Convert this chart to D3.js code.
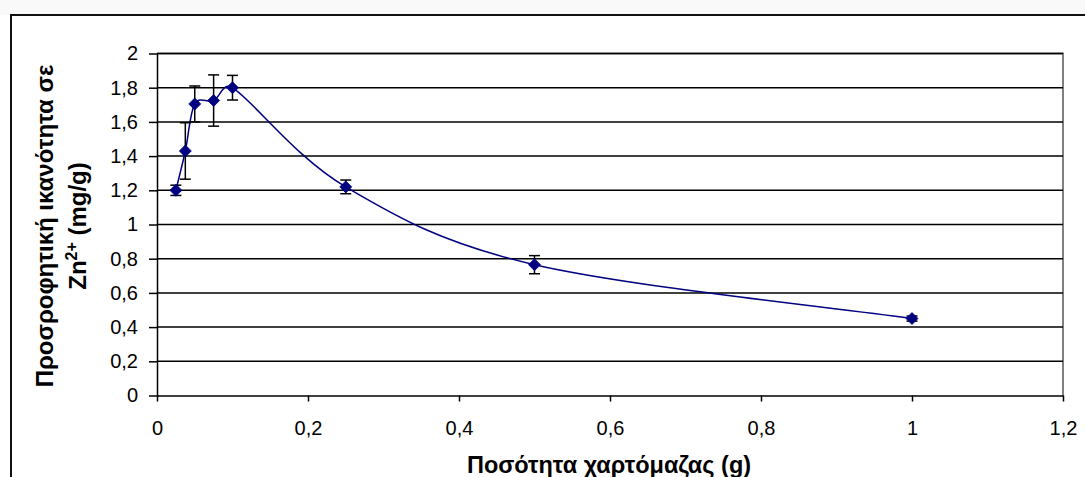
<!DOCTYPE html>
<html><head><meta charset="utf-8">
<script src="https://cdn.jsdelivr.net/npm/d3@7"></script>
<style>body{margin:0;background:#fff}svg{display:block}text{font-family:"Liberation Sans",Arial,sans-serif}</style>
</head><body>
<svg id="c" width="1085" height="477"></svg>
<script>
const xValues = [0.025, 0.0375, 0.05, 0.075, 0.1, 0.25, 0.5, 1.0];
const yValues = [1.20, 1.43, 1.705, 1.725, 1.80, 1.22, 0.765, 0.45];
const yErrors = [0.03, 0.165, 0.105, 0.15, 0.072, 0.04, 0.053, 0.015];
const xTicks = [0, 0.2, 0.4, 0.6, 0.8, 1, 1.2];
const yTicks = [0, 0.2, 0.4, 0.6, 0.8, 1, 1.2, 1.4, 1.6, 1.8, 2];
const xTitle = "Ποσότητα χαρτόμαζας (g)";
const yTitle1 = "Προσροφητική ικανότητα σε";

const svg = d3.select("#c");
const L = 157, R = 1063, T = 53.5, B = 395.5;
const x = d3.scaleLinear().domain([0, 1.2]).range([L, R]);
const y = d3.scaleLinear().domain([0, 2]).range([B, T]);
const fmt = d => String(d).replace(".", ",");
const FONT = '"Liberation Sans", Arial, sans-serif';

// page background strip above the chart frame
svg.append("rect").attr("x", 0).attr("y", 0).attr("width", 1085).attr("height", 15).attr("fill", "#f9f9f9");

// outer frame
svg.append("rect").attr("x", 11).attr("y", 15).attr("width", 1200).attr("height", 600)
  .attr("fill", "#fff").attr("stroke", "#111").attr("stroke-width", 2);

// plot border (gray)
svg.append("path").attr("d", `M${L},${T}H${R}V${B}`).attr("fill", "none")
  .attr("stroke", "#808080").attr("stroke-width", 2);

// gridlines
svg.append("g").selectAll("line").data(yTicks.filter(d => d > 0)).join("line")
  .attr("x1", L).attr("x2", R).attr("y1", d => y(d)).attr("y2", d => y(d))
  .attr("stroke", "#000").attr("stroke-width", 1.5);

// axes
const yAxis = svg.append("g").attr("transform", `translate(${L},0)`)
  .call(d3.axisLeft(y).tickValues(yTicks).tickFormat(fmt).tickSize(8).tickSizeOuter(0).tickPadding(11));
const xAxis = svg.append("g").attr("transform", `translate(0,${B})`)
  .call(d3.axisBottom(x).tickValues(xTicks).tickFormat(fmt).tickSize(6).tickSizeOuter(0).tickPadding(19));
[yAxis, xAxis].forEach(a => {
  a.select(".domain").attr("stroke", "#000").attr("stroke-width", 1.5);
  a.selectAll(".tick line").attr("stroke", "#000").attr("stroke-width", 1.5);
  a.selectAll(".tick text").attr("font-size", 20).attr("fill", "#000").style("font-family", FONT);
});

const pts = xValues.map((v, i) => ({x: v, y: yValues[i], e: yErrors[i]}));

// smoothed line (Excel-style Bezier smoothing, computed on scaled points)
function smoothPath(data) {
  const P = data.map(d => [x(d.x), y(d.y)]);
  const dist = (a, b) => Math.hypot(a[0] - b[0], a[1] - b[1]);
  const p = d3.path();
  p.moveTo(P[0][0], P[0][1]);
  for (let i = 0; i < P.length - 1; i++) {
    const p0 = P[Math.max(0, i - 1)], p1 = P[i], p2 = P[i + 1], p3 = P[Math.min(P.length - 1, i + 2)];
    const d02 = dist(p0, p2), d12 = dist(p1, p2), d13 = dist(p1, p3);
    let f0 = 1 / 6, f1 = 1 / 6;
    if (d02 / 6 >= d12 / 2) f0 = d12 / d02 / 2;
    if (d13 / 6 >= d12 / 2) f1 = d12 / d13 / 2;
    const c1 = [p1[0] + f0 * (p2[0] - p0[0]), p1[1] + f0 * (p2[1] - p0[1])];
    const c2 = [p2[0] - f1 * (p3[0] - p1[0]), p2[1] - f1 * (p3[1] - p1[1])];
    p.bezierCurveTo(c1[0], c1[1], c2[0], c2[1], p2[0], p2[1]);
  }
  return p.toString();
}
svg.append("path").attr("d", smoothPath(pts))
  .attr("fill", "none").attr("stroke", "#000080").attr("stroke-width", 1.5);

// error bars
const eb = svg.append("g").attr("stroke", "#000").attr("stroke-width", 1.5);
pts.forEach(d => {
  const cx = x(d.x);
  eb.append("line").attr("x1", cx).attr("x2", cx).attr("y1", y(d.y - d.e)).attr("y2", y(d.y + d.e));
  eb.append("line").attr("x1", cx - 5.5).attr("x2", cx + 5.5).attr("y1", y(d.y - d.e)).attr("y2", y(d.y - d.e));
  eb.append("line").attr("x1", cx - 5.5).attr("x2", cx + 5.5).attr("y1", y(d.y + d.e)).attr("y2", y(d.y + d.e));
});

// markers
svg.append("g").selectAll("path").data(pts).join("path")
  .attr("transform", d => `translate(${x(d.x)},${y(d.y)})`)
  .attr("d", "M0,-6L6,0L0,6L-6,0Z").attr("fill", "#000080").attr("stroke", "#000080").attr("stroke-width", 0.8);

// titles
svg.append("text").attr("x", 609).attr("y", 473).attr("text-anchor", "middle")
  .attr("font-size", 23.5).attr("font-weight", "bold").text(xTitle);
const yt = svg.append("g").attr("transform", "translate(0,226) rotate(-90)");
yt.append("text").attr("x", 0).attr("y", 53).attr("text-anchor", "middle")
  .attr("font-size", 24).attr("font-weight", "bold").text(yTitle1);
const t2 = yt.append("text").attr("x", 0).attr("y", 86).attr("text-anchor", "middle")
  .attr("font-size", 24).attr("font-weight", "bold");
t2.append("tspan").text("Zn");
t2.append("tspan").attr("font-size", 16).attr("dy", -9).text("2+");
t2.append("tspan").attr("dy", 9).text(" (mg/g)");
</script>
</body></html>
